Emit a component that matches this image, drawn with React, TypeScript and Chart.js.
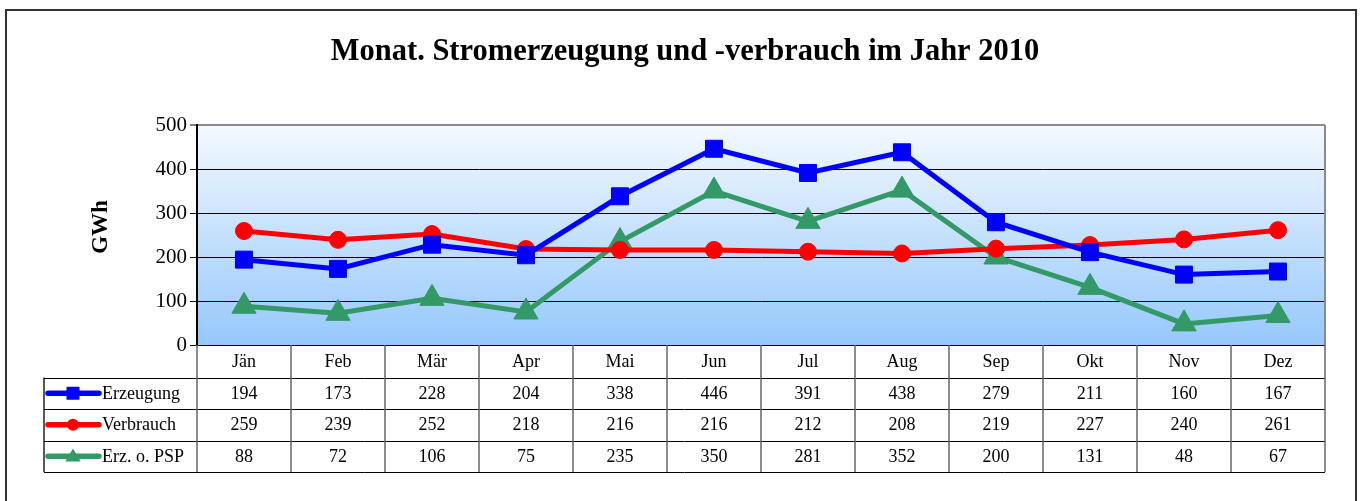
import React, { useEffect, useRef } from "react";
import { Chart, registerables } from "chart.js";

Chart.register(...registerables);

const titleText = "Monat. Stromerzeugung und -verbrauch im Jahr 2010";
const yTitle = "GWh";
const months = ["Jän", "Feb", "Mär", "Apr", "Mai", "Jun", "Jul", "Aug", "Sep", "Okt", "Nov", "Dez"];
const erzeugung = [194, 173, 228, 204, 338, 446, 391, 438, 279, 211, 160, 167];
const verbrauch = [259, 239, 252, 218, 216, 216, 212, 208, 219, 227, 240, 261];
const erzOhnePSP = [88, 72, 106, 75, 235, 350, 281, 352, 200, 131, 48, 67];
const seriesNames = ["Erzeugung", "Verbrauch", "Erz. o. PSP"];
const yTicks = [0, 100, 200, 300, 400, 500];

const FONT = "'Liberation Serif', 'Times New Roman', serif";

const seriesStyle = [
  { color: "#0000FF", point: "rect", radius: 12 },
  { color: "#FF0000", point: "circle", radius: 8.5 },
  { color: "#339966", point: "triangle", radius: 14 },
];
const seriesValues = [erzeugung, verbrauch, erzOhnePSP];

function drawMarker(ctx: CanvasRenderingContext2D, kind: string, x: number, y: number, s: number) {
  ctx.beginPath();
  if (kind === "rect") {
    ctx.rect(x - s, y - s, 2 * s, 2 * s);
  } else if (kind === "circle") {
    ctx.arc(x, y, s, 0, Math.PI * 2);
  } else {
    ctx.moveTo(x, y - s * 1.1);
    ctx.lineTo(x + s * 1.1, y + s * 0.75);
    ctx.lineTo(x - s * 1.1, y + s * 0.75);
    ctx.closePath();
  }
  ctx.fill();
}

const decoPlugin = {
  id: "deco",
  beforeDraw(chart: any) {
    const { ctx, chartArea: a } = chart;
    ctx.save();
    ctx.fillStyle = "#ffffff";
    ctx.fillRect(0, 0, chart.width, chart.height);
    const g = ctx.createLinearGradient(0, a.top, 0, a.bottom);
    g.addColorStop(0, "#F4F9FF");
    g.addColorStop(1, "#96C8FC");
    ctx.fillStyle = g;
    ctx.fillRect(a.left, a.top, a.right - a.left, a.bottom - a.top);
    ctx.strokeStyle = "#333333";
    ctx.lineWidth = 2;
    ctx.strokeRect(6, 10, chart.width - 12, chart.height + 20);
    ctx.restore();
  },
  afterDraw(chart: any) {
    const { ctx, chartArea: a } = chart;
    const xs = chart.scales.x;
    const n = months.length;
    const colW = (a.right - a.left) / n;
    const top = a.bottom;
    const hdrB = top + 32.5;
    const rowH = 31.5;
    const legL = 44;
    const botT = hdrB + 3 * rowH;
    ctx.save();
    // chart title
    ctx.font = `bold 30.5px ${FONT}`;
    ctx.fillStyle = "#000000";
    ctx.textAlign = "center";
    ctx.textBaseline = "middle";
    ctx.fillText(titleText, 685, 52);

    // y axis title
    ctx.save();
    ctx.translate(101, 227);
    ctx.rotate(-Math.PI / 2);
    ctx.font = `bold 23px ${FONT}`;
    ctx.fillStyle = "#000000";
    ctx.textAlign = "center";
    ctx.textBaseline = "middle";
    ctx.fillText(yTitle, 0, 0);
    ctx.restore();

    // right plot border
    ctx.strokeStyle = "#8a8a8a";
    ctx.lineWidth = 2;
    ctx.beginPath();
    ctx.moveTo(a.right, a.top);
    ctx.lineTo(a.right, a.bottom);
    ctx.stroke();

    // table lines
    ctx.strokeStyle = "#000000";
    ctx.lineWidth = 1;
    for (let r = 0; r <= 3; r++) {
      const y = Math.round(hdrB + r * rowH) + 0.5;
      ctx.beginPath();
      ctx.moveTo(legL, y);
      ctx.lineTo(a.right, y);
      ctx.stroke();
    }
    ctx.strokeStyle = "#666666";
    ctx.lineWidth = 1.5;
    for (let i = 0; i <= n; i++) {
      const x = a.left + i * colW;
      ctx.beginPath();
      ctx.moveTo(x, top);
      ctx.lineTo(x, botT);
      ctx.stroke();
    }
    ctx.strokeStyle = "#222222";
    ctx.beginPath();
    ctx.moveTo(legL, hdrB);
    ctx.lineTo(legL, botT);
    ctx.stroke();

    // texts
    ctx.fillStyle = "#000000";
    ctx.font = `18px ${FONT}`;
    ctx.textAlign = "center";
    ctx.textBaseline = "middle";
    months.forEach((m, i) => ctx.fillText(m, xs.getPixelForValue(i), top + 17));
    seriesValues.forEach((vals, ri) => {
      const cy = hdrB + ri * rowH + rowH / 2 + 1;
      ctx.textAlign = "center";
      ctx.fillStyle = "#000000";
      vals.forEach((v, i) => ctx.fillText(String(v), xs.getPixelForValue(i), cy));
      const st = seriesStyle[ri];
      ctx.strokeStyle = st.color;
      ctx.fillStyle = st.color;
      ctx.lineWidth = 5.5;
      ctx.lineCap = "round";
      ctx.beginPath();
      ctx.moveTo(48, cy - 1);
      ctx.lineTo(99, cy - 1);
      ctx.stroke();
      drawMarker(ctx, st.point, 73, cy - 1, st.point === "circle" ? 6 : st.point === "rect" ? 6.5 : 7);
      ctx.fillStyle = "#000000";
      ctx.textAlign = "left";
      ctx.fillText(seriesNames[ri], 102, cy);
    });
    ctx.restore();
  },
};

export default function App() {
  const ref = useRef<HTMLCanvasElement | null>(null);
  useEffect(() => {
    document.body.style.margin = "0";
    const canvas = ref.current;
    if (!canvas) return;
    const chart = new Chart(canvas, {
      type: "line",
      data: {
        labels: months,
        datasets: seriesValues.map((vals, i) => ({
          label: seriesNames[i],
          data: vals,
          borderColor: seriesStyle[i].color,
          backgroundColor: seriesStyle[i].color,
          pointBackgroundColor: seriesStyle[i].color,
          pointBorderColor: seriesStyle[i].color,
          pointStyle: seriesStyle[i].point as any,
          pointRadius: seriesStyle[i].radius,
          pointBorderWidth: 1,
          borderWidth: 5,
          tension: 0,
          fill: false,
        })),
      },
      options: {
        responsive: false,
        animation: false,
        layout: { padding: { left: 0, right: 37, top: 125, bottom: 0 } },
        plugins: {
          legend: { display: false },
          tooltip: { enabled: false },
          title: { display: false },
        },
        scales: {
          x: {
            type: "category",
            offset: true,
            ticks: { display: false },
            grid: { display: false },
            border: { display: false },
            afterFit: (s: any) => {
              s.height = 156;
            },
          },
          y: {
            min: 0,
            max: 500,
            afterBuildTicks: (s: any) => {
              s.ticks = yTicks.map((v) => ({ value: v }));
            },
            ticks: {
              color: "#000000",
              padding: 3,
              font: { family: FONT, size: 21 },
            },
            grid: {
              color: (c: any) => (c.tick && c.tick.value === 500 ? "#8a8a8a" : "#000000"),
              lineWidth: (c: any) => (c.tick && c.tick.value === 500 ? 2 : 1),
              tickColor: "#000000",
              tickLength: 7,
              tickWidth: 1,
            },
            border: { display: true, color: "#000000", width: 2 },
            afterFit: (s: any) => {
              s.width = 197;
            },
          },
        },
      },
      plugins: [decoPlugin],
    });
    return () => chart.destroy();
  }, []);
  return <canvas ref={ref} width={1362} height={501} style={{ display: "block" }} />;
}
